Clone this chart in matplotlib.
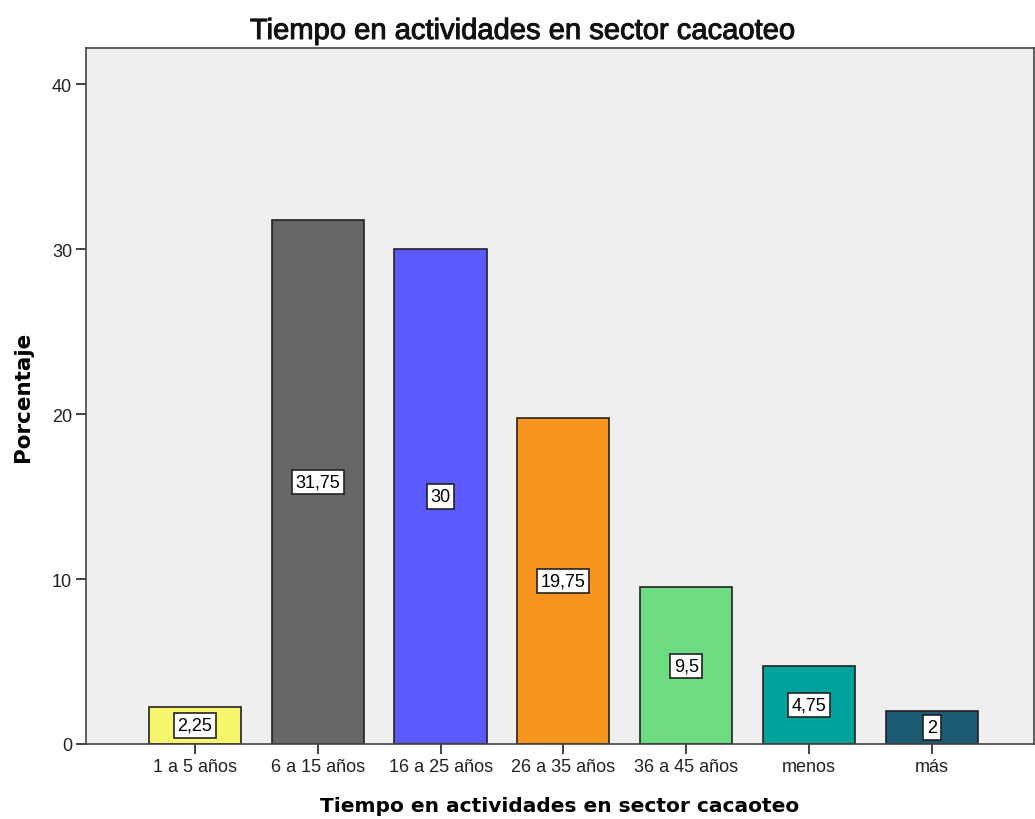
import matplotlib.pyplot as plt
import matplotlib.patheffects as pe
import numpy as np

categories = ['1 a 5 años', '6 a 15 años', '16 a 25 años', '26 a 35 años',
              '36 a 45 años', 'menos', 'más']
values = [2.25, 31.75, 30, 19.75, 9.5, 4.75, 2]
labels = ['2,25', '31,75', '30', '19,75', '9,5', '4,75', '2']
colors = ['#F7F76E', '#666666', '#5A5AFF', '#F7951E', '#6CDB82', '#00A39C', '#1D5B73']

plt.rcParams['font.family'] = ['Liberation Sans', 'DejaVu Sans']

fig = plt.figure(figsize=(10.35, 8.2), dpi=100)
ax = fig.add_axes([0.0831, 0.0915, 0.9159, 0.8487])
ax.set_facecolor('#EFEFEF')

x = np.arange(len(categories))
ax.bar(x, values, width=0.75, color=colors, edgecolor='#222222', linewidth=1.2, zorder=2)

# value labels in the middle of each bar
for xi, v, lab in zip(x, values, labels):
    ax.text(xi, v / 2, lab, ha='center', va='center', fontsize=13, zorder=3,
            bbox=dict(boxstyle='square,pad=0.2', facecolor='white', edgecolor='#222222', linewidth=1.2))

ax.set_xlim(-0.886, 6.83)
ax.set_ylim(0, 42.2)
ax.set_xticks(x)
ax.set_xticklabels(categories)
ax.set_yticks([0, 10, 20, 30, 40])
ax.tick_params(axis='both', direction='out', length=7, width=1.2, pad=3,
               colors='#222222', labelsize=13)
for s in ax.spines.values():
    s.set_color('#444444')
    s.set_linewidth(1.2)

# title is a medium weight, so regular font with a thin stroke
fig.text(0.505, 0.961, 'Tiempo en actividades en sector cacaoteo', fontsize=21,
         ha='center', va='center', color='#111111',
         path_effects=[pe.withStroke(linewidth=0.7, foreground='#111111')])
ax.set_xlabel('Tiempo en actividades en sector cacaoteo', fontsize=14.5, fontweight='bold',
              family='DejaVu Sans', labelpad=15)
ax.set_ylabel('Porcentaje', fontsize=15.5, fontweight='bold', family='DejaVu Sans')
ax.yaxis.set_label_coords(-0.056, 0.5)

plt.savefig('out.png', dpi=100)
